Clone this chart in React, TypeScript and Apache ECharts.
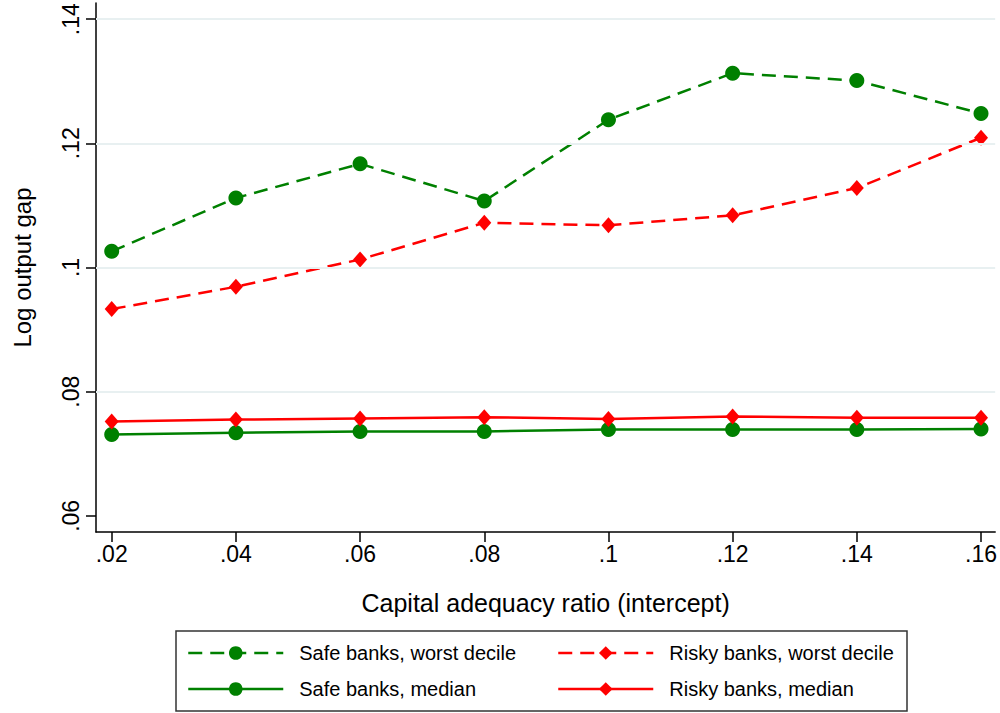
import React, { useEffect, useRef } from "react";
import * as echarts from "echarts";

const capitalRatio = [0.02, 0.04, 0.06, 0.08, 0.1, 0.12, 0.14, 0.16];
const safeWorst = [0.1026, 0.1112, 0.1167, 0.1107, 0.1238, 0.1313, 0.1301, 0.1248];
const riskyWorst = [0.0933, 0.0969, 0.1013, 0.1072, 0.1068, 0.1084, 0.1128, 0.1209];
const safeMedian = [0.0731, 0.0734, 0.0736, 0.0736, 0.0739, 0.0739, 0.0739, 0.074];
const riskyMedian = [0.0752, 0.0755, 0.0757, 0.0759, 0.0756, 0.076, 0.0758, 0.0758];
const xTicks = [0.02, 0.04, 0.06, 0.08, 0.1, 0.12, 0.14, 0.16];
const yTicks = [0.06, 0.08, 0.1, 0.12, 0.14];
const yGridLines = [0.08, 0.1, 0.12, 0.14];

const names = {
  safeWorst: "Safe banks, worst decile",
  riskyWorst: "Risky banks, worst decile",
  safeMedian: "Safe banks, median",
  riskyMedian: "Risky banks, median",
};

const GREEN = "#008000";
const RED = "#ff0000";
const FONT = "'Liberation Sans', Arial, sans-serif";

const fmt = (v: number) => {
  let s = v.toFixed(2).replace(/^0/, "");
  s = s.replace(/0+$/, "");
  return s;
};

const pairs = (ys: number[]) => capitalRatio.map((x, i) => [x, ys[i]]);

export default function App() {
  const ref = useRef<HTMLDivElement>(null);
  useEffect(() => {
    if (!ref.current) return;
    const chart = echarts.init(ref.current, null, { renderer: "svg" });
    const dash = [14, 8];
    const legendCommon = {
      itemWidth: 95,
      itemHeight: 17,
      padding: 0,
      textStyle: { fontSize: 20, color: "#000", fontFamily: FONT, padding: [0, 0, 0, 11] },
      lineStyle: { width: 2.5 },
      selectedMode: false,
      orient: "horizontal",
    };
    chart.setOption({
      animation: false,
      backgroundColor: "#fff",
      grid: { left: 96, right: 4, top: 3, bottom: 181 },
      xAxis: {
        type: "value",
        min: 0.01747,
        max: 0.16228,
        name: "Capital adequacy ratio (intercept)",
        nameLocation: "middle",
        nameGap: 58,
        nameTextStyle: { fontSize: 25, color: "#000", fontFamily: FONT },
        axisLine: { show: true, onZero: false, lineStyle: { color: "#000", width: 1.5 } },
        axisTick: { show: true, length: 10, customValues: xTicks, lineStyle: { color: "#000", width: 1.5 } },
        axisLabel: { customValues: xTicks, formatter: fmt, fontSize: 23, color: "#000", fontFamily: FONT, margin: 10 },
        splitLine: { show: false },
      },
      yAxis: {
        type: "value",
        min: 0.0574,
        max: 0.1426,
        name: "Log output gap",
        nameLocation: "middle",
        nameGap: 62,
        nameRotate: 90,
        nameTextStyle: { fontSize: 24, color: "#000", fontFamily: FONT },
        axisLine: { show: true, onZero: false, lineStyle: { color: "#000", width: 1.5 } },
        axisTick: { show: true, length: 10, customValues: yTicks, lineStyle: { color: "#000", width: 1.5 } },
        axisLabel: { customValues: yTicks, formatter: fmt, fontSize: 23, color: "#000", fontFamily: FONT, rotate: 90, margin: 14 },
        splitLine: { show: false },
      },
      legend: [
        { ...legendCommon, data: [names.safeWorst], left: 187, top: 643 },
        { ...legendCommon, data: [names.riskyWorst], left: 557, top: 643 },
        { ...legendCommon, data: [names.safeMedian], left: 187, top: 679 },
        { ...legendCommon, data: [names.riskyMedian], left: 557, top: 679 },
      ],
      graphic: [
        {
          type: "rect",
          shape: { x: 176, y: 631, width: 731, height: 80 },
          style: { fill: "none", stroke: "#333", lineWidth: 1.5 },
        },
      ],
      series: [
        {
          type: "line",
          name: "grid",
          data: [],
          z: 1,
          silent: true,
          markLine: {
            silent: true,
            symbol: "none",
            label: { show: false },
            lineStyle: { color: "#e8f0f1", width: 2, type: "solid" },
            data: yGridLines.map((v) => ({ yAxis: v })),
          },
        },
        {
          type: "line",
          name: names.safeWorst,
          data: pairs(safeWorst),
          z: 3,
          symbol: "circle",
          symbolSize: 15,
          itemStyle: { color: GREEN },
          lineStyle: { color: GREEN, width: 2.5, type: dash },
        },
        {
          type: "line",
          name: names.riskyWorst,
          data: pairs(riskyWorst),
          z: 3,
          symbol: "diamond",
          symbolSize: [14, 16],
          itemStyle: { color: RED },
          lineStyle: { color: RED, width: 2.5, type: dash },
        },
        {
          type: "line",
          name: names.safeMedian,
          data: pairs(safeMedian),
          z: 3,
          symbol: "circle",
          symbolSize: 15,
          itemStyle: { color: GREEN },
          lineStyle: { color: GREEN, width: 2.5, type: "solid" },
        },
        {
          type: "line",
          name: names.riskyMedian,
          data: pairs(riskyMedian),
          z: 3,
          symbol: "diamond",
          symbolSize: [14, 16],
          itemStyle: { color: RED },
          lineStyle: { color: RED, width: 2.5, type: "solid" },
        },
      ],
    });
    return () => chart.dispose();
  }, []);
  return (
    <div
      ref={ref}
      style={{ position: "absolute", left: 0, top: 0, width: 1000, height: 713, background: "#fff" }}
    />
  );
}
